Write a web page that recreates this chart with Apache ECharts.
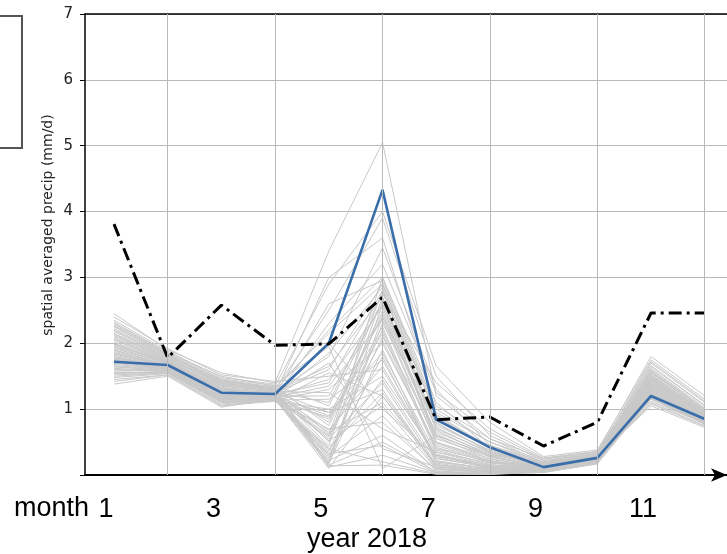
<!DOCTYPE html>
<html>
<head>
<meta charset="utf-8">
<script src="https://cdn.jsdelivr.net/npm/echarts@6/dist/echarts.min.js"></script>
<style>html,body{margin:0;padding:0;background:#fff}#c{width:727px;height:554px}</style>
</head>
<body>
<div id="c"></div>
<script>
const months = [1,2,3,4,5,6,7,8,9,10,11,12];
const xLabelMonths = [1,3,5,7,9,11];
const gridMonths = [2,4,6,8,10,12];
const yTicks = [0,1,2,3,4,5,6,7];
const blueValues  = [1.72,1.67,1.25,1.23,2.00,4.33,0.84,0.42,0.12,0.26,1.20,0.85];
const blackValues = [3.81,1.78,2.58,1.97,1.99,2.70,0.84,0.88,0.44,0.80,2.46,2.46];
const ensemble = [
  [2.45,1.90,1.55,1.40,3.40,5.05,1.20,0.55,0.25,0.35,1.80,1.20],
  [2.30,1.85,1.50,1.35,2.90,4.00,1.65,0.80,0.28,0.38,1.75,1.15],
  [2.20,1.80,1.45,1.30,2.50,3.90,1.50,0.60,0.22,0.33,1.70,1.10],
  [2.10,1.75,1.40,1.25,1.80,3.45,1.30,0.45,0.20,0.30,1.65,1.05],
  [2.05,1.72,1.35,1.28,2.20,3.00,1.00,0.50,0.18,0.28,1.60,1.00],
  [2.00,1.70,1.30,1.25,1.60,2.90,0.90,0.40,0.15,0.30,1.55,0.98],
  [1.95,1.68,1.28,1.22,1.40,2.80,0.70,0.35,0.12,0.26,1.50,0.95],
  [1.90,1.66,1.26,1.20,1.20,2.60,0.60,0.30,0.10,0.25,1.45,0.92],
  [1.85,1.65,1.24,1.20,0.90,2.40,0.50,0.25,0.10,0.24,1.40,0.90],
  [1.80,1.63,1.22,1.18,0.60,2.20,0.40,0.20,0.08,0.22,1.35,0.88],
  [1.75,1.62,1.20,1.17,0.30,1.80,0.20,0.10,0.06,0.20,1.30,0.85],
  [1.70,1.60,1.18,1.15,0.10,1.20,0.10,0.05,0.05,0.18,1.25,0.82],
  [1.65,1.58,1.16,1.15,0.15,0.50,0.05,0.02,0.05,0.20,1.20,0.80],
  [1.60,1.57,1.14,1.13,0.40,0.20,0.02,0.01,0.08,0.22,1.15,0.78],
  [1.55,1.56,1.12,1.12,0.70,0.80,0.08,0.04,0.10,0.24,1.10,0.75],
  [1.50,1.55,1.10,1.12,1.00,1.50,0.30,0.15,0.12,0.26,1.08,0.74],
  [1.45,1.52,1.06,1.14,1.30,2.00,0.45,0.20,0.14,0.28,1.05,0.72],
  [1.38,1.50,1.03,1.16,0.20,2.60,0.80,0.35,0.16,0.30,1.12,0.78],
  [2.35,1.88,1.48,1.38,1.95,0.10,0.60,0.30,0.20,0.32,1.72,1.12],
  [2.25,1.82,1.42,1.32,0.50,3.00,1.10,0.40,0.18,0.29,1.62,1.02],
  [1.92,1.69,1.29,1.24,2.00,1.00,0.30,0.10,0.08,0.21,1.48,0.93],
  [1.78,1.64,1.21,1.19,1.70,0.40,0.12,0.06,0.07,0.23,1.38,0.87],
  [1.68,1.61,1.17,1.21,2.60,2.95,0.95,0.50,0.22,0.31,1.58,1.00],
  [1.58,1.59,1.13,1.26,1.10,2.75,1.40,0.70,0.26,0.36,1.52,0.96],
  [2.15,1.78,1.38,1.31,0.80,2.50,0.55,0.28,0.12,0.25,1.42,0.90],
  [2.40,1.92,1.52,1.42,1.50,1.60,0.25,0.12,0.09,0.22,1.32,0.86],
  [1.88,1.67,1.27,1.23,0.25,2.30,0.85,0.45,0.17,0.27,1.44,0.91],
  [1.72,1.62,1.19,1.18,2.30,3.20,1.25,0.65,0.24,0.34,1.66,1.06],
  [1.62,1.58,1.15,1.16,0.55,1.40,0.15,0.08,0.06,0.19,1.22,0.81],
  [2.08,1.73,1.36,1.27,1.25,0.70,0.35,0.18,0.11,0.23,1.36,0.88],
  [1.48,1.54,1.08,1.13,0.35,2.10,0.65,0.32,0.14,0.27,1.18,0.79],
  [1.98,1.71,1.32,1.24,3.00,3.60,1.05,0.55,0.19,0.29,1.56,0.97],
  [2.18,1.79,1.40,1.29,0.12,0.30,0.03,0.02,0.04,0.17,1.28,0.83],
  [1.82,1.65,1.23,1.20,1.85,2.85,0.75,0.38,0.13,0.26,1.46,0.92],
  [2.12,1.76,1.37,1.30,0.18,1.90,0.22,0.09,0.07,0.21,1.34,0.86],
  [1.97,1.70,1.31,1.23,0.45,2.70,0.50,0.22,0.10,0.23,1.41,0.89],
  [1.84,1.66,1.24,1.19,0.65,1.10,0.18,0.07,0.06,0.20,1.26,0.83],
  [1.76,1.63,1.20,1.17,0.85,2.25,0.38,0.16,0.09,0.22,1.33,0.86],
  [1.66,1.60,1.16,1.15,0.28,0.90,0.06,0.03,0.05,0.19,1.21,0.80],
  [1.56,1.56,1.12,1.14,1.15,1.75,0.28,0.13,0.11,0.24,1.29,0.84],
  [2.28,1.84,1.44,1.34,0.75,2.45,0.62,0.27,0.13,0.25,1.47,0.93],
  [2.02,1.72,1.33,1.26,0.95,1.30,0.12,0.05,0.07,0.21,1.31,0.85],
  [1.90,1.67,1.27,1.21,1.45,2.55,0.58,0.24,0.12,0.24,1.43,0.91],
  [1.74,1.61,1.19,1.17,0.22,0.60,0.04,0.02,0.04,0.18,1.19,0.79],
  [1.64,1.59,1.15,1.15,0.58,2.05,0.42,0.19,0.10,0.23,1.37,0.87],
  [1.52,1.55,1.11,1.13,0.38,1.45,0.20,0.09,0.08,0.21,1.24,0.82],
  [2.32,1.86,1.46,1.36,1.05,2.65,0.78,0.36,0.15,0.27,1.53,0.95],
  [2.22,1.81,1.41,1.31,0.14,0.15,0.01,0.01,0.04,0.17,1.16,0.77],
  [1.94,1.69,1.30,1.23,0.68,1.65,0.26,0.11,0.08,0.22,1.30,0.85],
  [1.80,1.64,1.22,1.18,1.35,2.35,0.48,0.21,0.11,0.24,1.39,0.89],
  [1.70,1.61,1.18,1.16,0.42,1.25,0.14,0.06,0.06,0.20,1.23,0.81],
  [1.42,1.52,1.05,1.12,0.88,2.15,0.35,0.14,0.09,0.22,1.27,0.83],
  [2.06,1.74,1.35,1.27,1.65,2.70,0.68,0.29,0.13,0.26,1.49,0.94],
  [1.86,1.66,1.25,1.20,0.32,0.45,0.03,0.01,0.05,0.18,1.17,0.78],
  [1.60,1.57,1.14,1.14,0.95,1.85,0.32,0.12,0.09,0.22,1.33,0.85],
  [2.26,1.83,1.43,1.33,2.15,2.90,0.88,0.42,0.16,0.28,1.57,0.98],
  [1.99,1.71,1.31,1.24,0.52,1.05,0.09,0.04,0.06,0.19,1.22,0.81],
  [1.77,1.63,1.21,1.18,0.16,2.40,0.72,0.33,0.14,0.26,1.45,0.92],
  [1.54,1.56,1.11,1.13,1.55,1.20,0.16,0.07,0.07,0.20,1.26,0.82],
  [2.14,1.77,1.39,1.29,0.62,2.80,0.92,0.42,0.17,0.28,1.51,0.95]
];
const yAxisTitle = 'spatial averaged precip (mm/d)';
const xPrefixText = 'month';
const xTitleText = 'year 2018';

const pair = vals => months.map((m, i) => [m, vals[i]]);
const chart = echarts.init(document.getElementById('c'), null, {renderer: 'canvas'});
const xMin = 0.46, xMax = 12.415;
const bigFont = '"Liberation Sans", Arial, sans-serif';
const series = [];
series.push({
  type: 'line', data: [], silent: true, z: 0,
  markLine: {
    silent: true, symbol: ['none','none'], label: {show: false},
    lineStyle: {color: '#b8b8b8', width: 1, type: 'solid'},
    data: gridMonths.map(m => ({xAxis: m}))
  }
});
ensemble.forEach(vals => series.push({
  type: 'line', data: pair(vals), symbol: 'none', silent: true, z: 1,
  lineStyle: {color: '#c8c8c8', width: 1}
}));
series.push({type: 'line', data: pair(blueValues), symbol: 'none', z: 3,
  lineStyle: {color: '#3a6eaa', width: 2.6}});
series.push({type: 'line', data: pair(blackValues), symbol: 'none', z: 4,
  lineStyle: {color: '#000', width: 3, type: [13, 5, 3, 5], cap: 'butt'}});

chart.setOption({
  animation: false,
  grid: {left: 85, right: 0, top: 14, bottom: 79, containLabel: false},
  xAxis: [{
    type: 'value', min: xMin, max: xMax, position: 'bottom',
    axisLine: {show: true, onZero: false, lineStyle: {color: '#000', width: 2},
      symbol: ['none','arrow'], symbolSize: [10, 16]},
    axisTick: {show: false},
    splitLine: {show: false},
    axisLabel: {customValues: xLabelMonths, color: '#000', fontSize: 27,
      fontFamily: bigFont, margin: 21, padding: [0, 16, 0, 0]}
  }, {
    type: 'value', min: xMin, max: xMax, position: 'top',
    axisLine: {show: true, onZero: false, lineStyle: {color: '#000', width: 1.5}},
    axisTick: {show: false}, axisLabel: {show: false}, splitLine: {show: false}
  }],
  yAxis: {
    type: 'value', min: yTicks[0], max: yTicks[yTicks.length-1], interval: 1,
    axisLine: {show: true, lineStyle: {color: '#000', width: 1.5}},
    axisTick: {show: true, length: 5, lineStyle: {color: '#000'}},
    axisLabel: {fontFamily: '"DejaVu Sans", sans-serif', fontSize: 15, color: '#222', margin: 12,
      formatter: v => v === 0 ? '' : String(v)},
    splitLine: {show: true, lineStyle: {color: '#b8b8b8', width: 1}}
  },
  graphic: [
    {type: 'rect', shape: {x: -10, y: 16, width: 32, height: 132},
     style: {fill: 'none', stroke: '#555', lineWidth: 2}, z: 10},
    {type: 'text', x: 48, y: 225, rotation: Math.PI / 2,
     style: {text: yAxisTitle, fontSize: 14, fill: '#222', align: 'center', verticalAlign: 'middle',
       fontFamily: '"DejaVu Sans", sans-serif'}},
    {type: 'text', x: 14, y: 509,
     style: {text: xPrefixText, fontSize: 27, fill: '#000', align: 'left', verticalAlign: 'middle',
       fontFamily: bigFont}},
    {type: 'text', x: 367, y: 540,
     style: {text: xTitleText, fontSize: 27, fill: '#000', align: 'center', verticalAlign: 'middle',
       fontFamily: bigFont}}
  ],
  series: series
});
</script>
</body>
</html>
